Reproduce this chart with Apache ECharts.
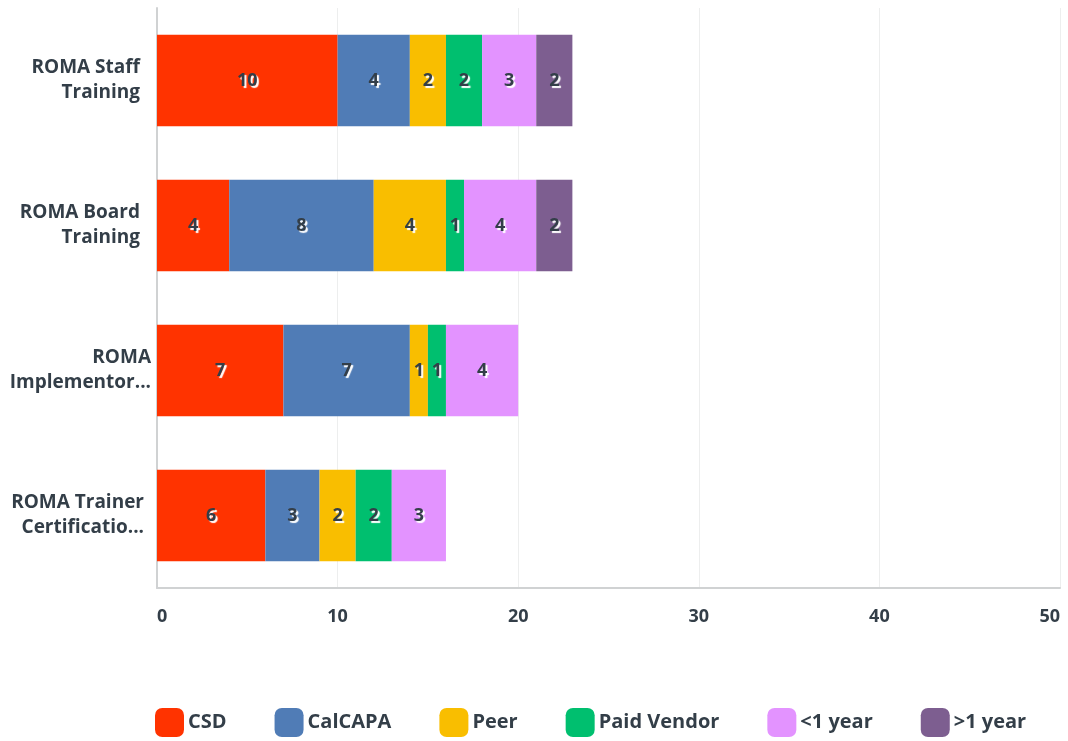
<!DOCTYPE html>
<html><head><meta charset="utf-8">
<script src="https://cdn.jsdelivr.net/npm/echarts@6/dist/echarts.min.js"></script>
<style>html,body{margin:0;padding:0;background:#fff}#c{width:1068px;height:741px}</style>
</head><body><div id="c"></div>
<script>
const categories = ['ROMA Staff\nTraining', 'ROMA Board\nTraining', 'ROMA\nImplementor...', 'ROMA Trainer\nCertificatio...'];
const seriesNames = ['CSD', 'CalCAPA', 'Peer', 'Paid Vendor', '<1 year', '>1 year'];
const csd = [10, 4, 7, 6];
const calcapa = [4, 8, 7, 3];
const peer = [2, 4, 1, 2];
const paidVendor = [2, 1, 1, 2];
const lessOneYear = [3, 4, 4, 3];
const moreOneYear = [2, 2, 0, 0];
const xTicks = [0, 10, 20, 30, 40, 50];
const colors = ['#ff3300', '#507cb6', '#f9be00', '#00bf6f', '#e393ff', '#7d5e90'];
const values = [csd, calcapa, peer, paidVendor, lessOneYear, moreOneYear];
const FONT = 'Open Sans';
const labelShift = [0, 0, 11, 4];
const chart = echarts.init(document.getElementById('c'));
chart.setOption({
  animation: false,
  color: colors,
  grid: {left: 157, right: 8, top: 8, bottom: 153, containLabel: false, outerBoundsMode: 'none'},
  legend: {
    bottom: 4, left: 155, padding: 0,
    itemWidth: 29, itemHeight: 29, itemGap: 48,
    icon: 'roundRect',
    textStyle: {fontFamily: FONT, fontSize: 20, fontWeight: 'bold', color: '#333e48', padding: [0,0,0,-1]},
    data: seriesNames
  },
  xAxis: {
    type: 'value', min: xTicks[0], max: xTicks[xTicks.length-1], interval: 10,
    axisLine: {show: true, lineStyle: {color: '#d0d2d3', width: 2}},
    axisTick: {show: false},
    splitLine: {lineStyle: {color: '#edeeee', width: 1}},
    axisLabel: {fontFamily: FONT, fontSize: 18, fontWeight: 'bold', color: '#333e48', margin: 20,
      alignMinLabel: 'left', alignMaxLabel: 'right'}
  },
  yAxis: {
    type: 'category', inverse: true,
    data: categories.map((c, i) => ({value: c, textStyle: {padding: [0, -labelShift[i], 0, 0]}})),
    axisLine: {show: true, lineStyle: {color: '#d0d2d3', width: 2}},
    axisTick: {show: false},
    axisLabel: {fontFamily: FONT, fontSize: 19, fontWeight: 'bold', color: '#333e48', margin: 17, lineHeight: 25, align: 'right'}
  },
  series: seriesNames.map((n, i) => ({
    name: n, type: 'bar', stack: 'total', barWidth: '63%',
    data: values[i],
    label: {
      show: true, position: 'inside',
      formatter: p => p.value ? String(p.value) : '',
      fontFamily: FONT, fontSize: 18, fontWeight: 'bold', color: '#333e48',
      textBorderWidth: 0,
      textShadowColor: '#ffffff', textShadowOffsetX: 2, textShadowOffsetY: 2, textShadowBlur: 1
    },
    emphasis: {disabled: true}
  }))
});
</script></body></html>
